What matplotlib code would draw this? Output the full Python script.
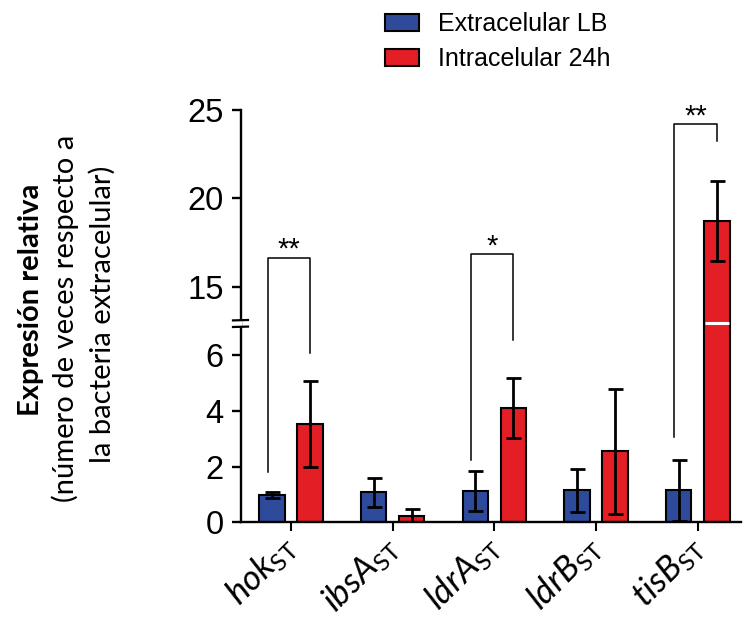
import numpy as np
import matplotlib
matplotlib.use("Agg")
import matplotlib.pyplot as plt
import matplotlib.transforms as mtrans
from matplotlib.patches import Patch

plt.rcParams['mathtext.fontset'] = 'custom'
plt.rcParams['mathtext.it'] = 'Lato:italic'
plt.rcParams['mathtext.rm'] = 'Lato'
plt.rcParams['font.family'] = ['Liberation Sans', 'DejaVu Sans']

# ---------------- data ----------------
genes = ['hok', 'ibsA', 'ldrA', 'ldrB', 'tisB']
series_names = ['Extracelular LB', 'Intracelular 24h']
extra_mean = [0.98, 1.08, 1.12, 1.15, 1.15]
extra_err = [0.12, 0.52, 0.72, 0.78, 1.10]
intra_mean = [3.52, 0.22, 4.10, 2.55, 18.72]
intra_err = [1.54, 0.26, 1.07, 2.24, 2.27]
yticks = [0, 2, 4, 6, 15, 20, 25]
# significance brackets: group, left bottom, right bottom, top, label
brk_group = [0, 2, 4]
brk_left = [1.82, 2.24, 3.08]
brk_right = [6.07, 6.55, 23.26]
brk_top = [16.64, 16.83, 24.19]
brk_label = ['**', '*', '**']

BLUE = '#2E4B9B'
RED = '#E31E25'

# broken axis scale
LO, HI = 7.15, 12.93
S2 = 17.67 / 27.83


def fwd(y):
    y = np.asarray(y, dtype=float)
    return np.where(y <= LO, y, np.where(y >= HI, LO + (y - HI) * S2, LO))


def inv(u):
    u = np.asarray(u, dtype=float)
    return np.where(u <= LO, u, HI + (u - LO) / S2)


W, H = 743, 621
fig = plt.figure(figsize=(W / 100, H / 100), dpi=100)
ax = fig.add_axes([241 / W, 1 - 522.3 / H, 500 / W, 412.3 / H])
ax.set_yscale('function', functions=(fwd, inv))

x = np.arange(len(genes))
off = 0.187
bw = 0.25
ekw = dict(elinewidth=2.0, capthick=2.0, capsize=5.4, ecolor='black')
ax.bar(x - off, extra_mean, bw, color=BLUE, edgecolor='black', linewidth=1.5,
       yerr=extra_err, error_kw=ekw, zorder=2)
ax.bar(x + off, intra_mean, bw, color=RED, edgecolor='black', linewidth=1.5,
       yerr=intra_err, error_kw=ekw, zorder=2)

# white gap across the tall bar at the break
for i, v in enumerate(intra_mean):
    if v > HI:
        ax.plot([x[i] + off - bw / 2 + 0.01, x[i] + off + bw / 2 - 0.01], [LO, LO],
                color='white', lw=2.2, zorder=3, solid_capstyle='butt')

# brackets
for g, lb, rb, tp, lab in zip(brk_group, brk_left, brk_right, brk_top, brk_label):
    xl = x[g] - 0.23
    xr = x[g] + off
    ax.plot([xl, xl, xr, xr], [lb, tp, tp, rb], color='black', lw=1.1, zorder=3)
    ax.text((xl + xr) / 2, tp, lab, ha='center', va='baseline', fontsize=21,
            family='Liberation Sans')

ax.set_xlim(-0.4916, -0.4916 + 500 / 101.7)
ax.set_ylim(0, 25)
ax.set_yticks(yticks)
ax.set_yticklabels([str(t) for t in yticks])
ax.yaxis.set_minor_locator(matplotlib.ticker.NullLocator())
ax.set_xticks(x)
ax.set_xticklabels([r'$\mathit{%s}_{\mathrm{ST}}$' % g for g in genes],
                   rotation=45, ha='right', va='center', rotation_mode='anchor',
                   fontsize=25)
shift = mtrans.ScaledTranslation(9 / 100, 0, fig.dpi_scale_trans)
for lbl in ax.get_xticklabels():
    lbl.set_transform(lbl.get_transform() + shift)
for s in ['top', 'right']:
    ax.spines[s].set_visible(False)
for s in ['left', 'bottom']:
    ax.spines[s].set_linewidth(1.7)
ax.tick_params(axis='y', direction='out', length=6.5, width=1.7, labelsize=23.5, pad=6)
ax.tick_params(axis='x', direction='out', length=6.5, width=1.5, pad=7.5)

# axis break marks
ub = LO / (LO + (25 - HI) * S2)
ax.plot([-0.003, -0.003], [ub - 0.007, ub + 0.007], transform=ax.transAxes,
        color='white', lw=3, clip_on=False, zorder=5, solid_capstyle='butt')
for dy in (-0.0085, 0.0075):
    ax.plot([-0.016, 0.014], [ub + dy - 0.0005, ub + dy + 0.0005], transform=ax.transAxes,
            color='black', lw=1.6, clip_on=False, zorder=6)

# y labels
fig.text(31 / W, 1 - 300 / H, 'Expresión relativa', rotation=90, ha='center', va='center',
         fontsize=21, fontweight='bold', family='Lato')
fig.text(65 / W, 1 - 318 / H, '(número de veces respecto a', rotation=90, ha='center',
         va='center', fontsize=21, family='Lato')
fig.text(102 / W, 1 - 314 / H, 'la bacteria extracelular)', rotation=90, ha='center',
         va='center', fontsize=21, family='Lato')

# legend
handles = [Patch(facecolor=BLUE, edgecolor='black', linewidth=1.5),
           Patch(facecolor=RED, edgecolor='black', linewidth=1.5)]
fig.legend(handles, series_names, loc='upper left', bbox_to_anchor=(385 / W, 1 - 12 / H),
           frameon=False, fontsize=18, handlelength=1.36, handleheight=0.68,
           handletextpad=0.75, labelspacing=0.45, borderpad=0, borderaxespad=0)

fig.savefig('out.png', dpi=100)
